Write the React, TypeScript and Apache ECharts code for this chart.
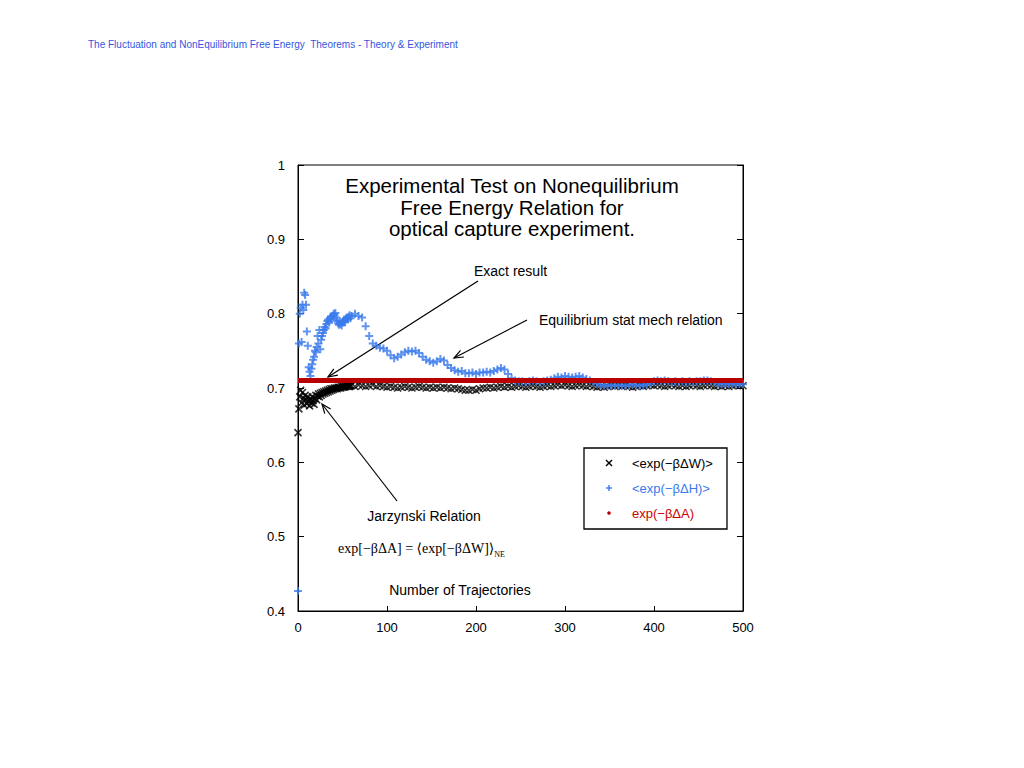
import React, { useEffect, useRef } from 'react';
import * as echarts from 'echarts';

// Number of trajectories (x values)
const trajectories = [
  0, 1, 2, 3, 4, 5, 6, 7, 8, 9,
  10, 11, 12, 13, 14, 15, 16, 17, 18, 19,
  20, 21, 22, 23, 24, 25, 26, 27, 28, 29,
  30, 31, 32, 33, 34, 35, 36, 37, 38, 39,
  40, 41, 42, 43, 44, 45, 46, 47, 48, 49,
  50, 51, 52, 53, 54, 55, 56, 57, 58, 59,
  60, 64, 68, 72, 76, 80, 84, 88, 92, 96,
  100, 104, 108, 112, 116, 120, 124, 128, 132, 136,
  140, 144, 148, 152, 156, 160, 164, 168, 172, 176,
  180, 184, 188, 192, 196, 200, 204, 208, 212, 216,
  220, 224, 228, 232, 236, 240, 244, 248, 252, 256,
  260, 264, 268, 272, 276, 280, 284, 288, 292, 296,
  300, 304, 308, 312, 316, 320, 324, 328, 332, 336,
  340, 344, 348, 352, 356, 360, 364, 368, 372, 376,
  380, 384, 388, 392, 396, 400, 404, 408, 412, 416,
  420, 424, 428, 432, 436, 440, 444, 448, 452, 456,
  460, 464, 468, 472, 476, 480, 484, 488, 492, 496,
  500,
];

// <exp(-beta dW)>
const expW = [
  0.640, 0.672, 0.688, 0.697, 0.680, 0.694, 0.686, 0.677, 0.690, 0.684,
  0.679, 0.688, 0.682, 0.676, 0.685, 0.680, 0.688, 0.683, 0.678, 0.686,
  0.690, 0.684, 0.689, 0.692, 0.688, 0.693, 0.690, 0.694, 0.692, 0.695,
  0.693, 0.696, 0.694, 0.697, 0.695, 0.698, 0.696, 0.699, 0.697, 0.699,
  0.698, 0.700, 0.699, 0.700, 0.699, 0.701, 0.700, 0.701, 0.700, 0.702,
  0.701, 0.702, 0.701, 0.702, 0.702, 0.703, 0.702, 0.703, 0.702, 0.703,
  0.703, 0.702, 0.704, 0.703, 0.702, 0.703, 0.704, 0.702, 0.703, 0.702,
  0.701, 0.702, 0.701, 0.700, 0.701, 0.702, 0.701, 0.700, 0.701, 0.702,
  0.701, 0.700, 0.701, 0.700, 0.701, 0.700, 0.701, 0.700, 0.699, 0.700,
  0.699, 0.698, 0.697, 0.697, 0.698, 0.697, 0.699, 0.700, 0.700, 0.701,
  0.700, 0.701, 0.702, 0.701, 0.702, 0.701, 0.702, 0.703, 0.702, 0.701,
  0.702, 0.703, 0.702, 0.701, 0.702, 0.703, 0.702, 0.703, 0.704, 0.703,
  0.704, 0.703, 0.702, 0.703, 0.704, 0.703, 0.702, 0.703, 0.702, 0.701,
  0.702, 0.701, 0.702, 0.703, 0.702, 0.703, 0.702, 0.703, 0.702, 0.701,
  0.702, 0.703, 0.702, 0.703, 0.704, 0.703, 0.704, 0.703, 0.702, 0.703,
  0.704, 0.703, 0.702, 0.703, 0.702, 0.703, 0.704, 0.703, 0.702, 0.703,
  0.704, 0.703, 0.702, 0.703, 0.702, 0.703, 0.702, 0.703, 0.704, 0.703,
  0.703,
];

// <exp(-beta dH)>
const expH = [
  0.427, 0.760, 0.800, 0.808, 0.762, 0.812, 0.805, 0.828, 0.825, 0.812,
  0.776, 0.757, 0.728, 0.722, 0.716, 0.726, 0.732, 0.738, 0.742, 0.750,
  0.748, 0.755, 0.770, 0.760, 0.778, 0.752, 0.765, 0.770, 0.774, 0.778,
  0.782, 0.780, 0.786, 0.790, 0.792, 0.788, 0.794, 0.796, 0.792, 0.797,
  0.800, 0.798, 0.801, 0.795, 0.790, 0.787, 0.785, 0.789, 0.786, 0.784,
  0.788, 0.790, 0.792, 0.789, 0.793, 0.795, 0.792, 0.796, 0.798, 0.794,
  0.797, 0.800, 0.797, 0.795, 0.783, 0.770, 0.760, 0.757, 0.754, 0.753,
  0.750, 0.744, 0.740, 0.742, 0.745, 0.748, 0.750, 0.749, 0.750, 0.747,
  0.742, 0.738, 0.736, 0.734, 0.736, 0.739, 0.737, 0.731, 0.727, 0.724,
  0.722, 0.723, 0.720, 0.720, 0.721, 0.719, 0.721, 0.721, 0.722, 0.721,
  0.723, 0.725, 0.727, 0.725, 0.719, 0.713, 0.710, 0.709, 0.709, 0.708,
  0.709, 0.710, 0.709, 0.708, 0.709, 0.710, 0.711, 0.713, 0.715, 0.714,
  0.716, 0.715, 0.714, 0.715, 0.716, 0.714, 0.712, 0.710, 0.708, 0.706,
  0.704, 0.703, 0.704, 0.703, 0.704, 0.703, 0.704, 0.703, 0.704, 0.705,
  0.704, 0.703, 0.704, 0.705, 0.706, 0.709, 0.710, 0.709, 0.710, 0.709,
  0.708, 0.709, 0.708, 0.709, 0.708, 0.709, 0.708, 0.709, 0.709, 0.710,
  0.710, 0.709, 0.708, 0.706, 0.705, 0.706, 0.705, 0.706, 0.705, 0.706,
  0.705,
];

// exp(-beta dA): exact result
const expA = 0.710;
const xRange = [0, 500];

const legendItems = ['<exp(−βΔW)>', '<exp(−βΔH)>', 'exp(−βΔA)'];

const BLUE = '#3a7bec';
const RED = '#b80000';
const FONT = '"Liberation Sans", Arial, Helvetica, sans-serif';

function arrow(x1: number, y1: number, x2: number, y2: number) {
  const ang = Math.atan2(y2 - y1, x2 - x1);
  const L = 10;
  const w = 0.38;
  return [
    { type: 'line', shape: { x1, y1, x2, y2 }, style: { stroke: '#000', lineWidth: 1.2 } },
    {
      type: 'polyline',
      shape: {
        points: [
          [x2 - L * Math.cos(ang - w), y2 - L * Math.sin(ang - w)],
          [x2, y2],
          [x2 - L * Math.cos(ang + w), y2 - L * Math.sin(ang + w)],
        ],
      },
      style: { stroke: '#000', lineWidth: 1.2, fill: 'none' },
    },
  ];
}

function txt(text: string, x: number, y: number, size: number, color = '#000', align = 'left', family = FONT) {
  return {
    type: 'text',
    x,
    y,
    style: { text, fill: color, fontSize: size, fontFamily: family, align, verticalAlign: 'middle' },
  };
}

export default function App() {
  const ref = useRef<HTMLDivElement>(null);
  useEffect(() => {
    if (!ref.current) return;
    const chart = echarts.init(ref.current, undefined, { renderer: 'svg' });
    const wData = trajectories.map((t, i) => [t, expW[i]]);
    const hData = trajectories.map((t, i) => [t, expH[i]]);
    const aData = xRange.map((t) => [t, expA]);

    const lx = 609;
    const ly = [463, 488, 513];

    chart.setOption({
      animation: false,
      backgroundColor: '#fff',
      title: [
        {
          text: 'The Fluctuation and NonEquilibrium Free Energy  Theorems - Theory & Experiment',
          left: 83,
          top: 34,
          textStyle: { fontSize: 10, fontWeight: 'normal', color: '#3356e0', fontFamily: FONT },
        },
        {
          text: 'Experimental Test on Nonequilibrium\nFree Energy Relation for\noptical capture experiment.',
          left: 'center',
          top: 170,
          textStyle: { fontSize: 20.5, lineHeight: 21.5, fontWeight: 'normal', color: '#000', fontFamily: FONT },
        },
      ],
      grid: {
        left: 298,
        top: 165,
        width: 445,
        height: 446,
        show: true,
        borderColor: '#000',
        borderWidth: 1,
        backgroundColor: 'transparent',
      },
      xAxis: {
        type: 'value',
        min: 0,
        max: 500,
        interval: 100,
        axisLine: { show: true, lineStyle: { color: '#000', width: 1 } },
        axisTick: { show: true, inside: true, length: 5, lineStyle: { color: '#000' } },
        axisLabel: { color: '#000', fontSize: 13, fontFamily: FONT, margin: 10 },
        splitLine: { show: false },
      },
      yAxis: [
        {
          type: 'value',
          min: 0.4,
          max: 1,
          interval: 0.1,
          axisLine: { show: true, lineStyle: { color: '#000', width: 1 } },
          axisTick: { show: true, inside: true, length: 6, lineStyle: { color: '#000' } },
          axisLabel: { color: '#000', fontSize: 13, fontFamily: FONT, margin: 13 },
          splitLine: { show: false },
        },
        {
          type: 'value',
          position: 'right',
          min: 0.4,
          max: 1,
          interval: 0.1,
          axisLine: { show: true, lineStyle: { color: '#000', width: 1 } },
          axisTick: { show: true, inside: true, length: 6, lineStyle: { color: '#000' } },
          axisLabel: { show: false },
          splitLine: { show: false },
        },
      ],
      series: [
        {
          name: legendItems[0],
          type: 'scatter',
          data: wData,
          symbol: 'path://M0,0L10,10M10,0L0,10',
          symbolSize: 7,
          itemStyle: { color: 'transparent', borderColor: '#000', borderWidth: 1.6 },
        },
        {
          name: legendItems[1],
          type: 'scatter',
          data: hData,
          symbol: 'path://M5,0L5,10M0,5L10,5',
          symbolSize: 8,
          itemStyle: { color: 'transparent', borderColor: BLUE, borderWidth: 2 },
        },
        {
          name: legendItems[2],
          type: 'line',
          data: aData,
          symbol: 'none',
          lineStyle: { color: RED, width: 5 },
        },
      ],
      graphic: [
        ...arrow(478, 281, 328, 377),
        ...arrow(527, 320, 454, 358),
        ...arrow(397, 501, 322, 404),
        txt('Exact result', 474, 271, 14),
        txt('Equilibrium stat mech relation', 539, 320, 14),
        txt('Jarzynski Relation', 424, 516, 14, '#000', 'center'),
        {
          type: 'text',
          x: 338,
          y: 548,
          style: {
            text: '{a|exp[−βΔA] = ⟨exp[−βΔW]⟩}{s|NE}',
            verticalAlign: 'middle',
            rich: {
              a: { fontSize: 14, fontFamily: '"Liberation Serif", "DejaVu Serif", serif', fill: '#000', lineHeight: 20, verticalAlign: 'middle' },
              s: { fontSize: 8, fontFamily: '"Liberation Serif", "DejaVu Serif", serif', fill: '#000', lineHeight: 20, verticalAlign: 'bottom' },
            },
          },
        },
        txt('Number of Trajectories', 460, 590, 14, '#000', 'center'),
        {
          type: 'rect',
          shape: { x: 584, y: 448, width: 143, height: 81 },
          style: { fill: '#fff', stroke: '#000', lineWidth: 1.3 },
        },
        { type: 'line', shape: { x1: lx - 3, y1: ly[0] - 3, x2: lx + 3, y2: ly[0] + 3 }, style: { stroke: '#000', lineWidth: 1.4 } },
        { type: 'line', shape: { x1: lx + 3, y1: ly[0] - 3, x2: lx - 3, y2: ly[0] + 3 }, style: { stroke: '#000', lineWidth: 1.4 } },
        { type: 'line', shape: { x1: lx - 3, y1: ly[1], x2: lx + 3, y2: ly[1] }, style: { stroke: BLUE, lineWidth: 1.4 } },
        { type: 'line', shape: { x1: lx, y1: ly[1] - 3, x2: lx, y2: ly[1] + 3 }, style: { stroke: BLUE, lineWidth: 1.4 } },
        { type: 'circle', shape: { cx: lx, cy: ly[2], r: 1.8 }, style: { fill: RED } },
        txt(legendItems[0], 632, ly[0], 13, '#000'),
        txt(legendItems[1], 632, ly[1], 13, BLUE),
        txt(legendItems[2], 632, ly[2], 13, '#cc0000'),
      ],
    });
    return () => chart.dispose();
  }, []);
  return (
    <div
      ref={ref}
      style={{ position: 'absolute', left: 0, top: 0, width: 1024, height: 768 }}
    />
  );
}
